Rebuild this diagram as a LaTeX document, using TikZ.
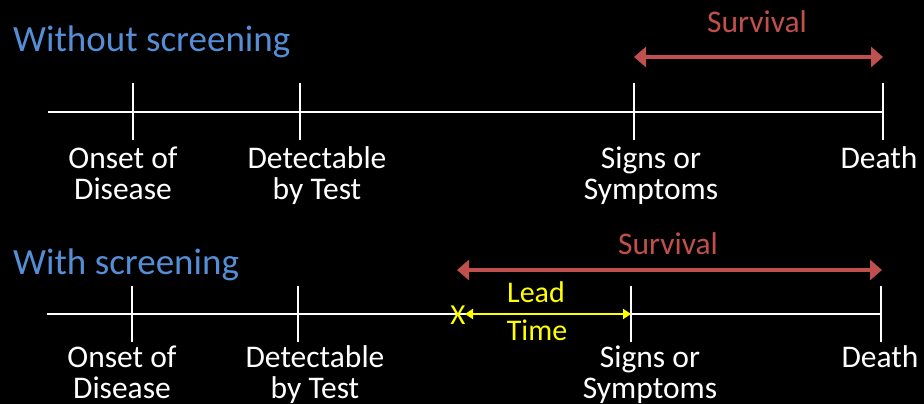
\documentclass[tikz,border=0pt]{standalone}
\usepackage{fontspec}
\setmainfont{Carlito}
\usetikzlibrary{arrows.meta}
\definecolor{titleblue}{RGB}{85,142,213}
\definecolor{survred}{RGB}{192,80,77}
\definecolor{leadyellow}{RGB}{255,255,0}
\begin{document}
\begin{tikzpicture}[x=1pt,y=-1pt,
  axis/.style={draw=white,line width=2.5pt},
  tick/.style={draw=white,line width=2.5pt},
  title/.style={text=titleblue,font=\fontsize{37}{40}\selectfont,anchor=base west,inner sep=0pt},
  evlabel/.style={text=white,font=\fontsize{31.5}{31}\selectfont,align=center,anchor=base,inner sep=0pt},
  survlabel/.style={text=survred,font=\fontsize{31.5}{31}\selectfont,anchor=base,inner sep=0pt},
  survarrow/.style={draw=survred,line width=4pt,{Triangle[length=12pt,width=20pt]}-{Triangle[length=12pt,width=20pt]}},
  leadlabel/.style={text=leadyellow,font=\fontsize{30}{30}\selectfont,anchor=base,inner sep=0pt},
  leadarrow/.style={draw=leadyellow,line width=2.5pt,{Triangle[length=8pt,width=10pt]}-{Triangle[length=8pt,width=10pt]}}
]
\fill[black] (0,0) rectangle (924,404);

% ---- without screening ----
% two-line labels are anchored at the baseline of their last line
\node[title] (t1) at (13,52) {Without screening};
\coordinate (a1s) at (48,112);
\coordinate (a1e) at (883,112);
\coordinate (on1) at (133,112);
\coordinate (de1) at (300,112);
\coordinate (si1) at (634,112);
\coordinate (dt1) at (883,112);
\draw[axis] (a1s) -- (a1e);
\foreach \p in {on1,de1,si1,dt1}
  \draw[tick] ([yshift=-28pt]\p) -- ([yshift=29pt]\p);
\node[evlabel] (lon1) at (123,199) {Onset of\\Disease};
\node[evlabel] (lde1) at (317,199) {Detectable\\by Test};
\node[evlabel] (lsi1) at (651,199) {Signs or\\Symptoms};
\node[evlabel] (ldt1) at (879,168) {Death};
\coordinate (sv1a) at (634,57);
\coordinate (sv1b) at (883,57);
\draw[survarrow] (sv1a) -- (sv1b);
\node[survlabel] (ls1) at (757,33) {Survival};

% ---- with screening ----
\node[title] (t2) at (13,274) {With screening};
\coordinate (a2s) at (47,314);
\coordinate (a2e) at (881,314);
\coordinate (on2) at (132,314);
\coordinate (de2) at (298,314);
\coordinate (si2) at (631,314);
\coordinate (dt2) at (881,314);
\draw[axis] (a2s) -- (a2e);
\foreach \p in {on2,de2,si2,dt2}
  \draw[tick] ([yshift=-28pt]\p) -- ([yshift=28pt]\p);
\node[evlabel] (lon2) at (122,398) {Onset of\\Disease};
\node[evlabel] (lde2) at (315,398) {Detectable\\by Test};
\node[evlabel] (lsi2) at (650,398) {Signs or\\Symptoms};
\node[evlabel] (ldt2) at (880,367) {Death};
\coordinate (sv2a) at (457,270);
\coordinate (sv2b) at (882,270);
\draw[survarrow] (sv2a) -- (sv2b);
\node[survlabel] (ls2) at (668,254) {Survival};

% screening detection point and lead time
\node[leadlabel,font=\fontsize{29}{29}\selectfont] (x) at (458,324) {X};
\coordinate (ld1) at (465,314);
\draw[leadarrow] (ld1) -- (si2);
\node[leadlabel] (llead) at (536,302) {Lead};
\node[leadlabel] (ltime) at (537,340) {Time};

\useasboundingbox (0,0) rectangle (924,404);
\end{tikzpicture}
\end{document}
